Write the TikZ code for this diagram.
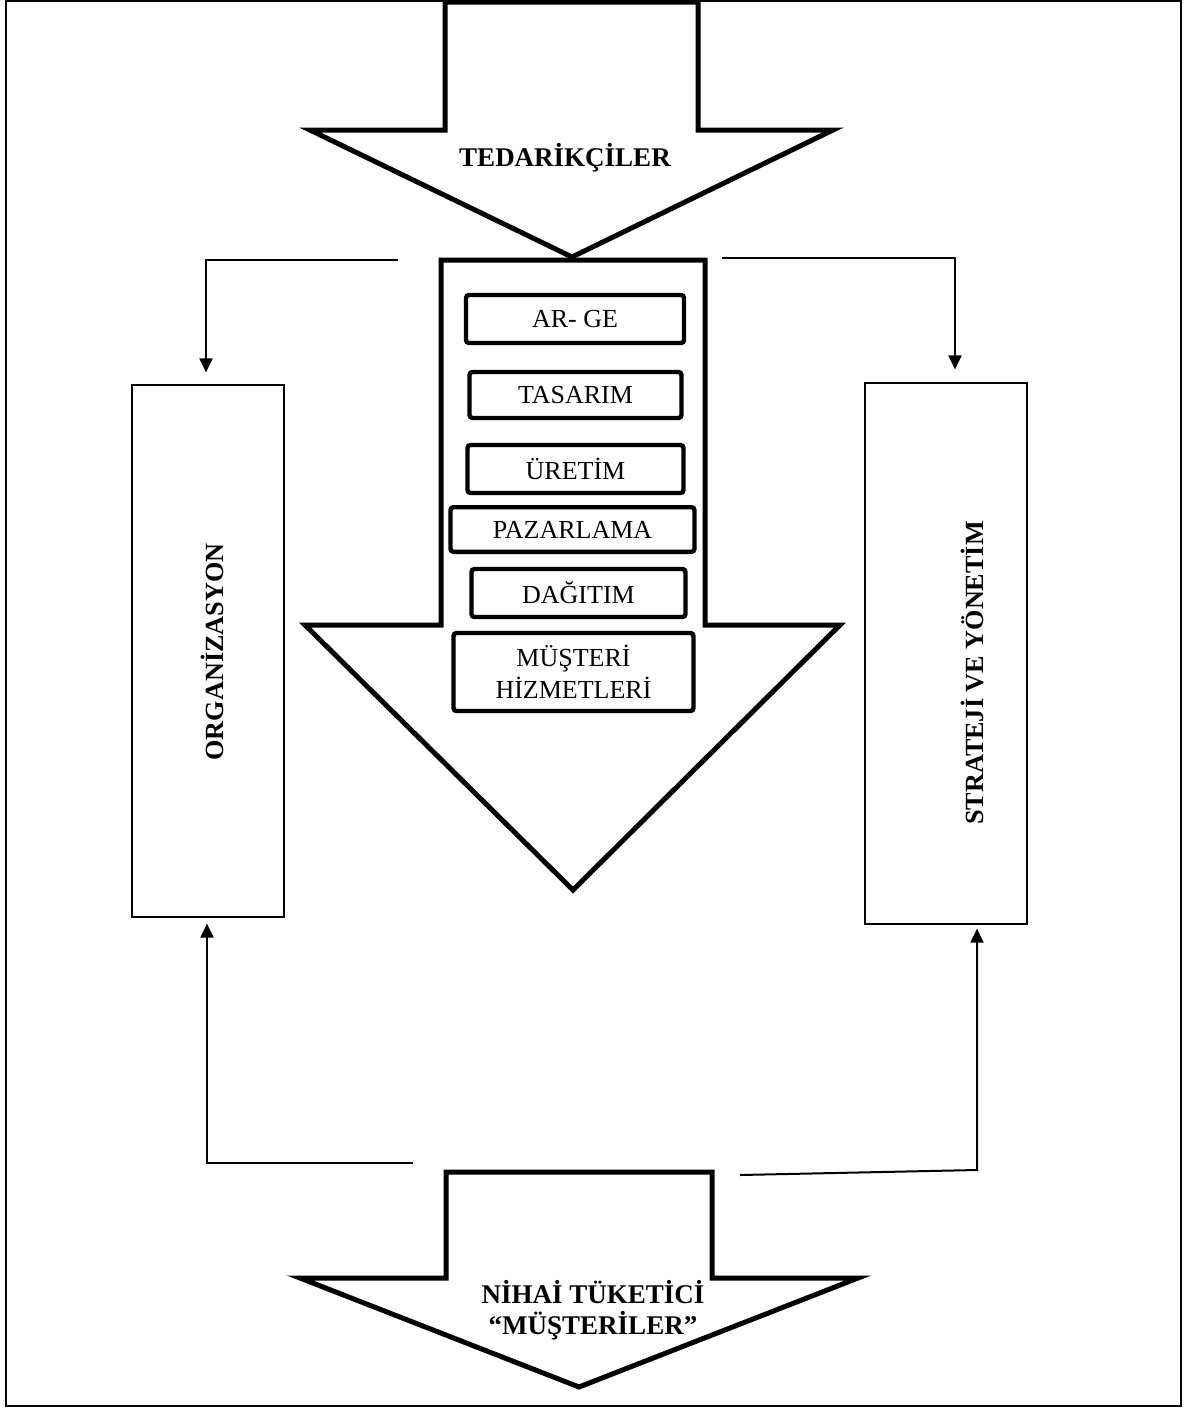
\documentclass[tikz,border=0pt]{standalone}
\usepackage{fontspec}
\setmainfont{Liberation Serif}
\usetikzlibrary{arrows.meta}

\begin{document}
\begin{tikzpicture}[x=0.5pt,y=-0.5pt,
  bigarrow/.style={draw=black, line width=2.5pt, fill=white, line join=miter},
  stagebox/.style={draw=black, line width=2.2pt, rounded corners=1.5pt, fill=white,
                   font=\fontsize{13}{16}\selectfont, align=center, inner sep=0pt},
  sidebox/.style={draw=black, line width=0.6pt, inner sep=0pt},
  boldtext/.style={font=\bfseries\fontsize{13.5}{15.5}\selectfont, align=center},
  sidetext/.style={font=\bfseries\fontsize{13.1}{15}\selectfont, rotate=90},
  link/.style={line width=1pt},
  arrowed/.style={-{Triangle[length=7pt,width=6.5pt]}}
]
\useasboundingbox (0,0) rectangle (1186,1409);

% supplier arrow entering from the top
\draw[bigarrow] (445,2) -- (445,130) -- (310,130) -- (572,257) -- (833,130)
  -- (698,130) -- (698,2) -- cycle;
\node[boldtext] (supp) at (565,158) {TEDARİKÇİLER};

% value chain arrow
\draw[bigarrow] (441,260) -- (441,625) -- (305,625) -- (573,890) -- (840,625)
  -- (705,625) -- (705,260) -- cycle;

% stages of the chain
\node[stagebox, minimum width=109pt, minimum height=24pt] (arge) at (575,319) {AR- GE};
\node[stagebox, minimum width=106pt, minimum height=23pt] (tas) at (575.5,395) {TASARIM};
\node[stagebox, minimum width=108pt, minimum height=24pt] (uret) at (575.5,469) {ÜRETİM};
\node[stagebox, minimum width=122pt, minimum height=22.3pt] (paz) at (572.5,529.5) {PAZARLAMA};
\node[stagebox, minimum width=107pt, minimum height=24pt] (dag) at (578.5,593) {DAĞITIM};
\node[stagebox, minimum width=120pt, minimum height=39pt] (must) at (573.5,672) {MÜŞTERİ\\HİZMETLERİ};

% end customer arrow at the bottom
\draw[bigarrow] (446,1172) -- (446,1278) -- (300,1278) -- (579,1387) -- (858,1278)
  -- (712,1278) -- (712,1172) -- cycle;
\node[boldtext] (cust) at (593,1310) {NİHAİ TÜKETİCİ\\“MÜŞTERİLER”};

% side blocks
\node[sidebox, minimum width=76pt, minimum height=266pt] (org) at (208,651) {};
\node[sidetext] (orgtxt) at (212,652) {ORGANİZASYON};
\node[sidebox, minimum width=81pt, minimum height=270.5pt] (str) at (946,653.5) {};
\node[sidetext] (strtxt) at (972,673) {STRATEJİ VE YÖNETİM};

% feedback connectors
\coordinate (ltop) at (398,260);
\coordinate (rtop) at (722,258);
\coordinate (lbot) at (413,1163);
\coordinate (rbot) at (740,1175);
\coordinate (rcorner) at (977,1170);

\draw[link, arrowed, shorten >=6pt] (ltop) -| ([xshift=-1pt]org.north);
\draw[link, arrowed, shorten >=6.5pt] (rtop) -| ([xshift=4.5pt]str.north);
\draw[link, arrowed, shorten >=3pt] (lbot) -| ([xshift=-0.5pt]org.south);
\draw[link, arrowed, shorten >=2pt] (rbot) -- (rcorner) -- ([xshift=15.5pt]str.south);

% outer frame
\draw[line width=1.2pt] (6,1) rectangle (1181,1406);
\end{tikzpicture}
\end{document}
